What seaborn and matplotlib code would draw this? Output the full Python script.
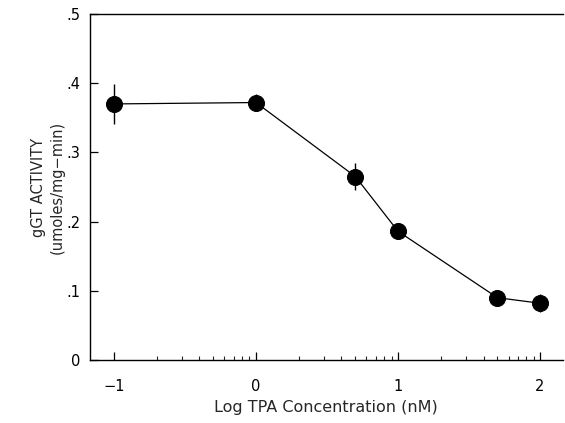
import numpy as np
import pandas as pd
import matplotlib
matplotlib.use("Agg")
import matplotlib.pyplot as plt
import seaborn as sns

# data
log_tpa = [-1, 0, 0.7, 1, 1.7, 2]
activity = [0.370, 0.372, 0.265, 0.186, 0.090, 0.082]
sem = [0.029, 0.012, 0.020, 0.005, 0.006, 0.013]
y_ticks = [0, 0.1, 0.2, 0.3, 0.4, 0.5]
y_labels = ["0", ".1", ".2", ".3", ".4", ".5"]
x_ticks = [-1, 0, 1, 2]
x_labels = ["\u22121", "0", "1", "2"]

df = pd.DataFrame({"log_tpa": log_tpa, "activity": activity, "sem": sem})

sns.set_style("ticks", {"xtick.direction": "in", "ytick.direction": "in"})
plt.rcParams["font.family"] = ["DejaVu Sans"]

fig = plt.figure(figsize=(5.65, 4.23), dpi=100)
ax = fig.add_axes([0.159, 0.149, 0.837, 0.818])

ax.errorbar(df["log_tpa"], df["activity"], yerr=df["sem"], fmt="none",
            ecolor="black", elinewidth=1.0, capsize=0, zorder=2)
sns.lineplot(data=df, x="log_tpa", y="activity", ax=ax, color="black",
             linewidth=0.9, marker="o", markersize=11.5, markeredgecolor="black",
             markerfacecolor="black", zorder=3)

ax.set_xlim(-1.17, 2.16)
ax.set_ylim(0, 0.5)

ax.set_xticks(x_ticks)
ax.set_xticklabels(x_labels)
minor = [d + np.log10(k) for d in range(-1, 2) for k in range(2, 10)]
ax.set_xticks(minor, minor=True)
ax.set_yticks(y_ticks)
ax.set_yticklabels(y_labels)

ax.tick_params(axis="both", which="major", direction="in", length=6,
               width=0.9, labelsize=10.5, colors="black", pad=7)
ax.tick_params(axis="x", which="minor", direction="in", length=3, width=0.8)
ax.tick_params(axis="x", which="major", pad=14)

for side in ["left", "bottom", "top"]:
    ax.spines[side].set_linewidth(1.0)
    ax.spines[side].set_color("black")
ax.spines["right"].set_visible(False)

ax.set_xlabel("Log TPA Concentration (nM)", fontsize=11.5, labelpad=4)
ax.set_ylabel("gGT ACTIVITY\n(umoles/mg\u2212min)", fontsize=10.5,
              labelpad=1, linespacing=1.3)

fig.savefig("out.png", dpi=100)
